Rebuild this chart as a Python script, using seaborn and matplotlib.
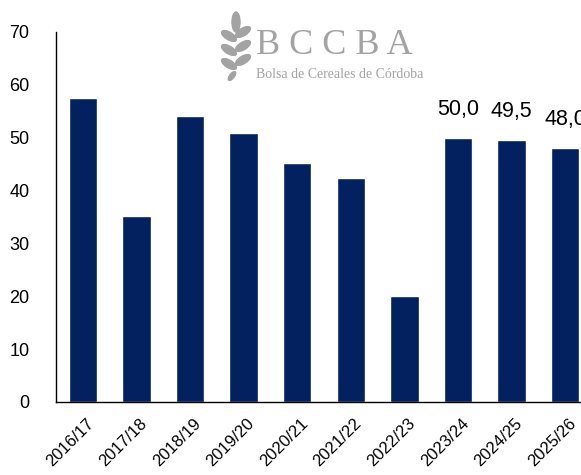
import matplotlib
matplotlib.use("Agg")
import matplotlib.pyplot as plt
import seaborn as sns
import pandas as pd
from matplotlib.patches import Ellipse

seasons = ["2016/17", "2017/18", "2018/19", "2019/20", "2020/21",
           "2021/22", "2022/23", "2023/24", "2024/25", "2025/26"]
values = [57.5, 35.2, 54.2, 50.9, 45.2, 42.3, 20.0, 50.0, 49.5, 48.0]
labeled = ["2023/24", "2024/25", "2025/26"]
yticks = [0, 10, 20, 30, 40, 50, 60, 70]

sns.set_style("white")
plt.rcParams['font.family'] = ['Liberation Sans', 'DejaVu Sans']

df = pd.DataFrame({"season": seasons, "value": values})

W, H = 581, 475
fig = plt.figure(figsize=(W/100, H/100), dpi=100)
ax = fig.add_axes([56/W, 73/H, 525/W, 370/H])
sns.barplot(data=df, x="season", y="value", color="#03205F", width=0.53,
            saturation=1, ax=ax)
ax.set_xlim(-0.5, 9.295)
ax.set_ylim(0, 70)
ax.set_yticks(yticks)
ax.set_xlabel("")
ax.set_ylabel("")
for s in ["top", "right"]:
    ax.spines[s].set_visible(False)
for s in ["left", "bottom"]:
    ax.spines[s].set_color("black")
    ax.spines[s].set_linewidth(1.0)
ax.tick_params(axis="y", length=0, labelsize=13, pad=19, labelcolor="black")
ax.tick_params(axis="x", length=0, labelsize=12, pad=10, labelcolor="black")
plt.setp(ax.get_xticklabels(), rotation=45, ha="right", rotation_mode="anchor")
for lbl in ax.get_xticklabels():
    lbl.set_transform(lbl.get_transform() + matplotlib.transforms.ScaledTranslation(3/100, 0, fig.dpi_scale_trans))

for i, (s, v) in enumerate(zip(seasons, values)):
    if s in labeled:
        ax.annotate(f"{v:.1f}".replace(".", ","), (i, v), xytext=(0, 13),
                    textcoords="offset points", ha="center", va="bottom",
                    fontsize=15.5, color="black", annotation_clip=False)

# logo
gray = "#a3a3a3"
fig.text(256/W, 1 - 46/H, "B C C B A", fontsize=26, family="Liberation Serif",
         color=gray, ha="left", va="center")
fig.text(256/W, 1 - 74/H, "Bolsa de Cereales de Córdoba", fontsize=10,
         family="Liberation Serif", color=gray, ha="left", va="center")
# leaf icon (decorative)
fig.add_artist(Ellipse((236/W, 1 - 22/H), 8/W, 20/H, angle=0,
                       color=gray, transform=fig.transFigure))
for yy in [36, 50, 64]:
    fig.add_artist(Ellipse((229/W, 1 - yy/H), 18/W, 7/H, angle=-40,
                           color=gray, transform=fig.transFigure))
    fig.add_artist(Ellipse((243/W, 1 - (yy - 4)/H), 18/W, 7/H, angle=40,
                           color=gray, transform=fig.transFigure))
fig.add_artist(Ellipse((232/W, 1 - 76/H), 5/W, 10/H, angle=-30,
                       color=gray, transform=fig.transFigure))

fig.savefig("out.png", dpi=100)
